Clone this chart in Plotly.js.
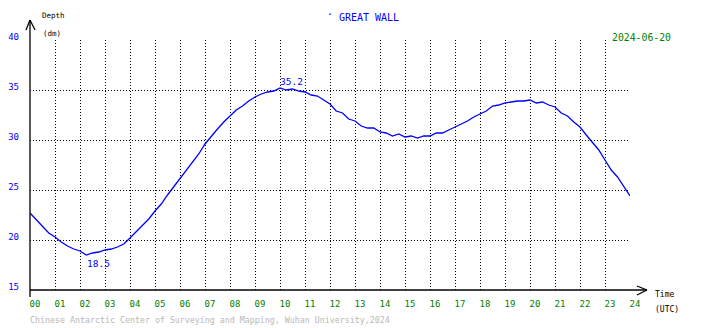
<!DOCTYPE html>
<html>
<head>
<meta charset="utf-8">
<script src="https://cdn.plot.ly/plotly-3.0.1.min.js"></script>
<style>html,body{margin:0;padding:0;background:#fff;}#chart{width:710px;height:328px;}</style>
</head>
<body>
<div id="chart"></div>
<script>
// ---- data ----
const hours = [0,0.25,0.5,0.75,1,1.25,1.5,1.75,2,2.25,2.5,2.75,3,3.25,3.5,3.75,4,4.25,4.5,4.75,5,5.25,5.5,5.75,6,6.25,6.5,6.75,7,7.25,7.5,7.75,8,8.25,8.5,8.75,9,9.25,9.5,9.75,10,10.25,10.5,10.75,11,11.25,11.5,11.75,12,12.25,12.5,12.75,13,13.25,13.5,13.75,14,14.25,14.5,14.75,15,15.25,15.5,15.75,16,16.25,16.5,16.75,17,17.25,17.5,17.75,18,18.25,18.5,18.75,19,19.25,19.5,19.75,20,20.25,20.5,20.75,21,21.25,21.5,21.75,22,22.25,22.5,22.75,23,23.25,23.5,23.75,24];
const depth = [22.7,22.0,21.3,20.7,20.3,19.8,19.4,19.1,18.9,18.5,18.7,18.8,19.0,19.1,19.3,19.6,20.2,20.8,21.5,22.1,22.9,23.6,24.5,25.3,26.1,26.9,27.7,28.6,29.6,30.4,31.1,31.8,32.4,33.0,33.4,33.9,34.3,34.6,34.8,34.9,35.2,35.0,35.1,34.9,34.8,34.5,34.4,34.0,33.6,32.9,32.7,32.1,31.9,31.4,31.2,31.2,30.8,30.7,30.4,30.6,30.3,30.4,30.2,30.4,30.4,30.7,30.7,31.0,31.3,31.6,31.9,32.3,32.6,32.9,33.4,33.5,33.7,33.8,33.9,33.9,34.0,33.7,33.8,33.5,33.3,32.7,32.4,31.8,31.3,30.5,29.7,29.0,28.0,27.0,26.3,25.4,24.4];
const xTickVals = [0,1,2,3,4,5,6,7,8,9,10,11,12,13,14,15,16,17,18,19,20,21,22,23,24];
const xTickText = ["00","01","02","03","04","05","06","07","08","09","10","11","12","13","14","15","16","17","18","19","20","21","22","23","24"];
const yTickVals = [15,20,25,30,35,40];
const yTickText = ["15","20","25","30","35","40"];
const stationName = "GREAT WALL";
const dateLabel = "2024-06-20";
const footerText = "Chinese Antarctic Center of Surveying and Mapping, Wuhan University,2024";

// ---- helpers: pixel position -> paper fraction (plot area 30..630 x, 40..290 y) ----
const PL = 30, PR = 630, PT = 40, PB = 290;
const fx = p => (p - PL) / (PR - PL);
const fy = p => (PB - p) / (PB - PT);

let iMax = 0, iMin = 0;
depth.forEach((v, i) => { if (v > depth[iMax]) iMax = i; if (v < depth[iMin]) iMin = i; });

const MONO = "DejaVu Sans Mono, monospace";

const trace = {
  x: hours, y: depth, type: "scatter", mode: "lines",
  line: {color: "#0000ff", width: 1.3}, hoverinfo: "skip"
};

const ln = (x0, y0, x1, y1) => ({type: "line", xref: "paper", yref: "paper",
  x0: fx(x0), y0: fy(y0), x1: fx(x1), y1: fy(y1), line: {color: "#000", width: 1.3}});

const ann = (text, x, y, xanchor, size, color) => ({
  text, xref: "paper", yref: "paper", x: fx(x), y: fy(y), xanchor, yanchor: "middle",
  showarrow: false, font: {family: MONO, size, color}
});

const layout = {
  width: 710, height: 328,
  margin: {l: PL, r: 710 - PR, t: PT, b: 328 - PB},
  paper_bgcolor: "#fff", plot_bgcolor: "#fff",
  showlegend: false,
  title: {text: stationName, x: 369 / 710, y: 1 - 17 / 328, xanchor: "center", yanchor: "middle",
          xref: "container", yref: "container", font: {family: MONO, size: 10, color: "#0000ff"}},
  xaxis: {
    range: [0, 24], tickmode: "array", tickvals: xTickVals, ticktext: xTickText,
    showgrid: true, gridcolor: "#000", gridwidth: 1, griddash: "1px,2px",
    zeroline: false, showline: false, ticks: "",
    ticklabelstandoff: 7, ticklabelshift: 5,
    tickfont: {family: MONO, size: 9, color: "#008000"}, fixedrange: true
  },
  yaxis: {
    range: [15, 40], tickmode: "array", tickvals: yTickVals, ticktext: yTickText,
    showgrid: true, gridcolor: "#000", gridwidth: 1, griddash: "1px,2px",
    zeroline: false, showline: false, ticks: "",
    ticklabelstandoff: 10, ticklabelshift: -3,
    tickfont: {family: MONO, size: 9, color: "#0000ff"}, fixedrange: true
  },
  shapes: [
    ln(30, 297, 30, 20), ln(30, 20, 26, 30), ln(30, 20, 35, 30),
    ln(30, 290, 647, 290), ln(647, 290, 637, 286), ln(647, 290, 637, 295)
  ],
  annotations: [
    ann("Depth", 40, 16, "left", 7.5, "#000"),
    ann("(dm)", 41, 34, "left", 7.5, "#000"),
    ann("·", 330, 15, "center", 10, "#0000ff"),
    Object.assign(ann(dateLabel, 610, 37, "left", 9.8, "#008000"), {bgcolor: "#fff"}),
    ann("Time", 653, 294, "left", 8, "#000"),
    ann("(UTC)", 653, 309, "left", 8, "#000"),
    ann(footerText, 28, 320, "left", 8.3, "#b8b8b8"),
    {text: depth[iMax].toFixed(1), x: hours[iMax], y: depth[iMax], xref: "x", yref: "y",
     xanchor: "left", yanchor: "bottom", showarrow: false, yshift: -1, xshift: -2,
     font: {family: MONO, size: 9.5, color: "#0000ff"}},
    {text: depth[iMin].toFixed(1), x: hours[iMin], y: depth[iMin], xref: "x", yref: "y",
     xanchor: "left", yanchor: "top", showarrow: false, yshift: -1, xshift: -1,
     font: {family: MONO, size: 9.5, color: "#0000ff"}}
  ]
};

Plotly.newPlot("chart", [trace], layout, {displayModeBar: false, staticPlot: true});
</script>
</body>
</html>
